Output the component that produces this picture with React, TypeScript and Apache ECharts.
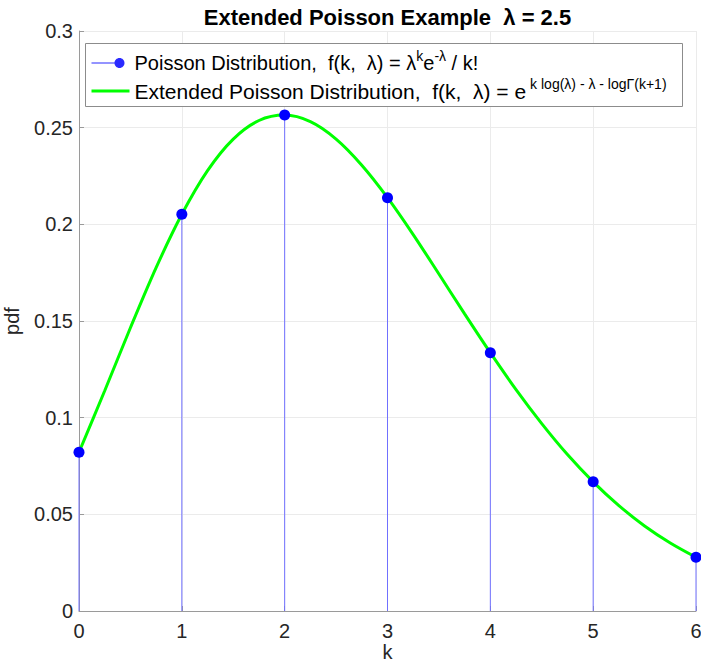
import React, { useEffect, useRef } from "react";
import * as echarts from "echarts";

// Poisson pmf values at integer k (lambda = 2.5)
const kValues = [0, 1, 2, 3, 4, 5, 6];
const poissonValues = [0.0821, 0.2052, 0.2565, 0.2138, 0.1336, 0.0668, 0.0278];

// Extended (continuous) Poisson curve read at k step 0.25
const curveK = [
  0, 0.25, 0.5, 0.75, 1, 1.25, 1.5, 1.75, 2, 2.25, 2.5, 2.75, 3, 3.25, 3.5, 3.75, 4,
  4.25, 4.5, 4.75, 5, 5.25, 5.5, 5.75, 6,
];
const curveValues = [
  0.0821, 0.1139, 0.1465, 0.1776, 0.2052, 0.2278, 0.2441, 0.2537, 0.2565, 0.2531,
  0.2441, 0.2306, 0.2138, 0.1947, 0.1743, 0.1537, 0.1336, 0.1145, 0.0969, 0.0809,
  0.0668, 0.0545, 0.044, 0.0352, 0.0278,
];

const xTicks = { min: 0, max: 6, interval: 1 };
const yTicks = { min: 0, max: 0.3, interval: 0.05 };

const titleText = "Extended Poisson Example  \u03bb = 2.5";
const seriesNames = ["Poisson Distribution", "Extended Poisson Distribution"];

const FONT = "'Liberation Sans', Arial, Helvetica, sans-serif";

// legend icon: thin line ending in a dot (bounding box 38 x 10)
const stemIcon =
  "path://M0,4.5 L27,4.5 L27,5.5 L0,5.5 Z " +
  "M33,5 C33,7.761 30.761,10 28,10 C25.239,10 23,7.761 23,5 C23,2.239 25.239,0 28,0 C30.761,0 33,2.239 33,5 Z " +
  "M37.9,0 L38,0 L38,0.1 L37.9,0.1 Z";

export default function App() {
  const ref = useRef<HTMLDivElement>(null);

  useEffect(() => {
    if (!ref.current) return;
    const chart = echarts.init(ref.current, undefined, { renderer: "svg" });
    const gridLeft = 79;
    const gridRight = 5;
    const gridTop = 31;
    const gridBottom = 53;

    chart.setOption({
      animation: false,
      backgroundColor: "#ffffff",
      textStyle: { fontFamily: FONT },
      title: {
        text: titleText,
        left: (gridLeft + (701 - gridRight)) / 2,
        textAlign: "center",
        top: 6,
        padding: 0,
        textStyle: { fontFamily: FONT, fontSize: 22, fontWeight: "bold", color: "#000000" },
      },
      grid: {
        left: gridLeft,
        right: gridRight,
        top: gridTop,
        bottom: gridBottom,
        containLabel: false,
        outerBoundsMode: "none",
      },
      graphic: [
        {
          type: "rect",
          z: 3,
          shape: { x: 85.5, y: 43.5, width: 597, height: 63 },
          style: { fill: "#ffffff", stroke: "#8c8c8c", lineWidth: 1 },
        },
      ],
      legend: {
        orient: "vertical",
        left: 90,
        top: 49,
        z: 5,
        padding: 0,
        itemGap: 0,
        itemWidth: 38,
        itemHeight: 10,
        data: [
          {
            name: seriesNames[0],
            icon: stemIcon,
            itemStyle: { color: "#2a2aff" },
          },
          {
            name: seriesNames[1],
            lineStyle: { color: "#00ff00", width: 3 },
            itemStyle: { opacity: 0 },
          },
        ],
        formatter: (name: string) => {
          if (name === seriesNames[0]) {
            return "Poisson Distribution,  f(k,  \u03bb) = \u03bb{s|k}e{s|-\u03bb} / k!";
          }
          return "{m|Extended Poisson Distribution,  f(k,  \u03bb) = e}{t|k log(\u03bb) - \u03bb - log\u0393(k+1)}";
        },
        textStyle: {
          fontFamily: FONT,
          fontSize: 20,
          color: "#000000",
          lineHeight: 28,
          rich: {
            s: { fontFamily: FONT, fontSize: 14, lineHeight: 15, verticalAlign: "top", color: "#000000" },
            m: { fontFamily: FONT, fontSize: 21, lineHeight: 28, color: "#000000" },
            t: {
              fontFamily: FONT,
              fontSize: 14,
              lineHeight: 15,
              verticalAlign: "top",
              color: "#000000",
              padding: [0, 0, 0, 4],
            },
          },
        },
      },
      xAxis: {
        type: "value",
        min: xTicks.min,
        max: xTicks.max,
        interval: xTicks.interval,
        name: "k",
        nameLocation: "middle",
        nameGap: 31,
        nameMoveOverlap: false,
        nameTextStyle: { fontFamily: FONT, fontSize: 20, lineHeight: 20, color: "#262626" },
        axisLine: { show: true, onZero: false, lineStyle: { color: "#9a9a9a", width: 1 } },
        axisTick: { show: true, inside: true, length: 5, lineStyle: { color: "#9a9a9a" } },
        axisLabel: { fontFamily: FONT, fontSize: 20, lineHeight: 20, color: "#262626", margin: 10 },
        splitLine: { show: true, lineStyle: { color: "#ebebeb", width: 1 } },
      },
      yAxis: {
        type: "value",
        min: yTicks.min,
        max: yTicks.max,
        interval: yTicks.interval,
        name: "pdf",
        nameLocation: "middle",
        nameGap: 57,
        nameMoveOverlap: false,
        nameTextStyle: { fontFamily: FONT, fontSize: 20, color: "#262626" },
        axisLine: { show: true, onZero: false, lineStyle: { color: "#9a9a9a", width: 1 } },
        axisTick: { show: true, inside: true, length: 5, lineStyle: { color: "#9a9a9a" } },
        axisLabel: { fontFamily: FONT, fontSize: 20, color: "#262626", margin: 6 },
        splitLine: { show: true, lineStyle: { color: "#ebebeb", width: 1 } },
      },
      series: [
        {
          name: "stems",
          type: "bar",
          barWidth: 1,
          z: 1,
          silent: true,
          itemStyle: { color: "#7070ff" },
          data: kValues.map((k, i) => [k, poissonValues[i]]),
        },
        {
          name: seriesNames[1],
          type: "line",
          smooth: 0.3,
          showSymbol: false,
          symbol: "none",
          z: 2,
          lineStyle: { color: "#00ff00", width: 3 },
          itemStyle: { color: "#00ff00" },
          data: curveK.map((k, i) => [k, curveValues[i]]),
        },
        {
          name: seriesNames[0],
          type: "line",
          symbol: "circle",
          symbolSize: 11,
          clip: false,
          z: 3,
          lineStyle: { width: 0, opacity: 0 },
          itemStyle: { color: "#0000ff" },
          data: kValues.map((k, i) => [k, poissonValues[i]]),
        },
      ],
    });

    return () => chart.dispose();
  }, []);

  return (
    <div
      ref={ref}
      style={{ position: "fixed", left: 0, top: 0, width: 701, height: 664 }}
    />
  );
}
